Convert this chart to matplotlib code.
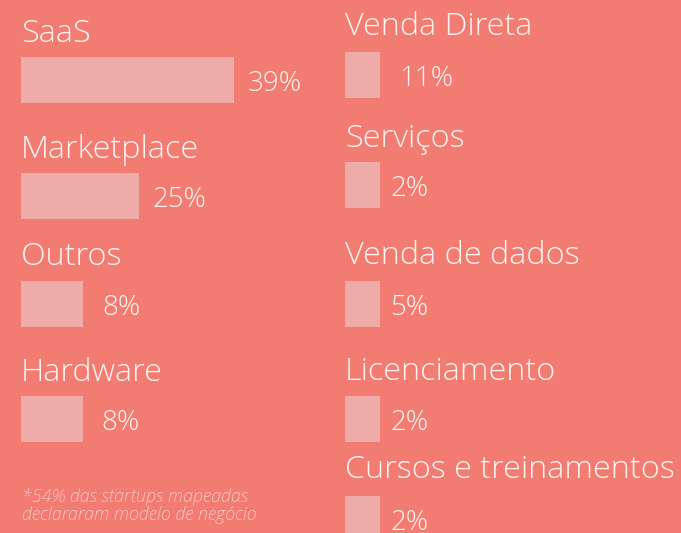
import matplotlib
matplotlib.use("Agg")
import matplotlib.pyplot as plt

left_names = ["SaaS", "Marketplace", "Outros", "Hardware"]
left_values = [39, 25, 8, 8]
right_names = ["Venda Direta", "Serviços", "Venda de dados", "Licenciamento",
               "Cursos e treinamentos"]
right_values = [11, 2, 5, 2, 2]
# drawn bar lengths (the graphic does not scale bars to the values)
left_bar_len = [213, 118, 62, 62]
right_bar_len = [35, 35, 35, 35, 35]
footnote = "*54% das startups mapeadas\ndeclararam modelo de negócio"

# ---- layout (pixel units, y grows downward) ----
W, H = 681, 533
BG = "#F27B72"
BAR = "#EEABA8"
TXT = "#FFF4F0"
NOTE = "#F9C4BF"
FONT = "Open Sans"

left_x = 21
left_label_y = [42, 158, 265, 381]
left_bar_top = [57, 173, 281, 396]
left_gap = [14, 13, 19, 18]

right_x = 345
right_label_y = [35, 147, 264, 380, 478]
right_bar_top = [52, 162, 281, 396, 496]
right_gap = [19, 10, 10, 10, 10]

BAR_H = 46

fig = plt.figure(figsize=(W / 100, H / 100), dpi=100, facecolor=BG)
ax = fig.add_axes([0, 0, 1, 1])
ax.set_facecolor(BG)
ax.set_xlim(0, W)
ax.set_ylim(H, 0)
ax.set_axis_off()


def column(x0, names, values, lengths, label_y, bar_top, gaps):
    centers = [t + BAR_H / 2 for t in bar_top]
    ax.barh(centers, lengths, height=BAR_H, left=x0, color=BAR, linewidth=0)
    for name, val, ln, ly, bt, g in zip(names, values, lengths, label_y, bar_top, gaps):
        ax.text(x0, ly, name, fontsize=23.3, color=TXT, family=FONT,
                weight="light", va="baseline", ha="left")
        ax.text(x0 + ln + g, bt + 34, f"{val}%", fontsize=20, color=TXT,
                family=FONT, weight="light", va="baseline", ha="left")


column(left_x, left_names, left_values, left_bar_len, left_label_y, left_bar_top, left_gap)
column(right_x, right_names, right_values, right_bar_len, right_label_y, right_bar_top, right_gap)

ax.text(22, 520, footnote, fontsize=12.9, color=NOTE, family=FONT, style="italic",
        weight="light", va="baseline", ha="left", linespacing=1.0)

fig.savefig("out.png", dpi=100, facecolor=BG)
